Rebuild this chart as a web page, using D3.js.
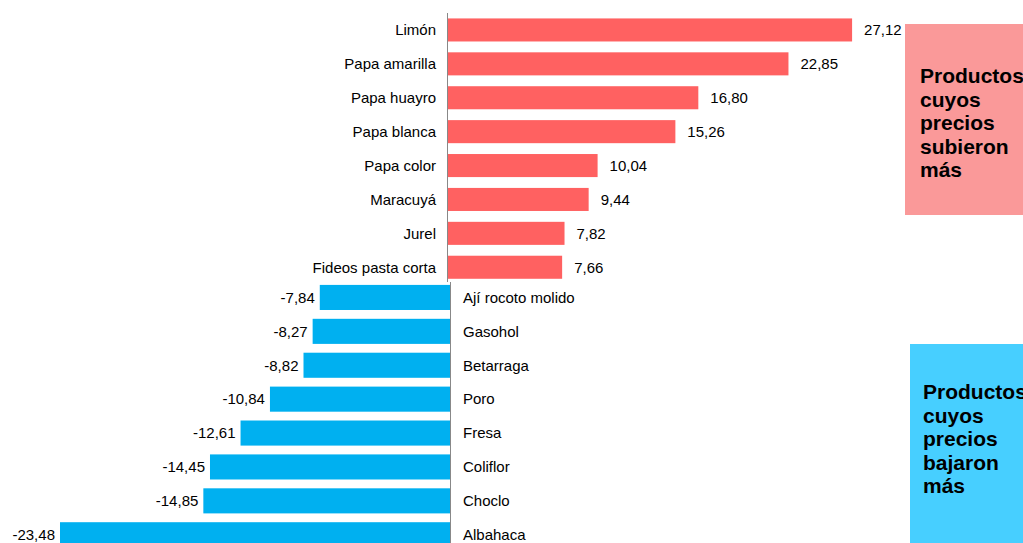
<!DOCTYPE html>
<meta charset='utf-8'>
<style>
body { margin: 0; background: #fff; }
svg { display: block; }
text { font-family: 'Liberation Sans', Arial, sans-serif; font-size: 15px; fill: #000; }
.box-label { font-weight: bold; font-size: 21px; }
</style>
<svg id='chart'></svg>
<script src="https://cdn.jsdelivr.net/npm/d3@7/dist/d3.min.js"></script>
<script>

// products whose prices rose most
const upNames = ['Limón', 'Papa amarilla', 'Papa huayro', 'Papa blanca', 'Papa color',
                 'Maracuyá', 'Jurel', 'Fideos pasta corta'];
const upValues = [27.12, 22.85, 16.80, 15.26, 10.04, 9.44, 7.82, 7.66];

// products whose prices fell most
const downNames = ['Ají rocoto molido', 'Gasohol', 'Betarraga', 'Poro', 'Fresa',
                   'Coliflor', 'Choclo', 'Albahaca'];
const downValues = [-7.84, -8.27, -8.82, -10.84, -12.61, -14.45, -14.85, -23.48];

const upBoxLines = ['Productos', 'cuyos', 'precios', 'subieron', 'más'];
const downBoxLines = ['Productos', 'cuyos', 'precios', 'bajaron', 'más'];

const width = 1023;
const height = 543;
const fmt = v => v.toFixed(2).replace('.', ',');

const svg = d3.select('#chart')
  .attr('width', width)
  .attr('height', height);

// the two halves were drawn at slightly different scales in the original
const xUp = d3.scaleLinear().domain([0, 30]).range([448, 448 + 30 * 14.9]);
const xDown = d3.scaleLinear().domain([-25, 0]).range([450 - 25 * 16.61, 450]);

const yUp = d3.scaleBand().domain(upNames).range([13, 13 + 8 * 33.9]).paddingInner(0.32).paddingOuter(0.16);
const yDown = d3.scaleBand().domain(downNames).range([280.5, 280.5 + 8 * 33.9]).paddingInner(0.26).paddingOuter(0.13);

const up = upNames.map((n, i) => ({ name: n, value: upValues[i] }));
const down = downNames.map((n, i) => ({ name: n, value: downValues[i] }));

// side boxes
const boxes = [
  { x: 905, y: 24, w: 130, h: 191, fill: '#FA9999', lines: upBoxLines, tx: 920, ty: 83 },
  { x: 910, y: 344, w: 130, h: 210, fill: '#47CFFF', lines: downBoxLines, tx: 923, ty: 399 }
];

boxes.forEach(b => {
  svg.append('rect')
    .attr('x', b.x).attr('y', b.y)
    .attr('width', b.w).attr('height', b.h)
    .attr('fill', b.fill);
  svg.append('g').selectAll('text')
    .data(b.lines)
    .join('text')
    .attr('class', 'box-label')
    .attr('x', b.tx)
    .attr('y', (d, i) => b.ty + i * 23.6)
    .text(d => d);
});

// rising bars
const gUp = svg.append('g');
gUp.selectAll('rect')
  .data(up)
  .join('rect')
  .attr('x', xUp(0))
  .attr('y', d => yUp(d.name))
  .attr('width', d => xUp(d.value) - xUp(0))
  .attr('height', yUp.bandwidth())
  .attr('fill', '#FF6161');

gUp.selectAll('text.cat')
  .data(up)
  .join('text')
  .attr('class', 'cat')
  .attr('x', xUp(0) - 12)
  .attr('y', d => yUp(d.name) + yUp.bandwidth() / 2)
  .attr('dy', '0.35em')
  .attr('text-anchor', 'end')
  .text(d => d.name);

gUp.selectAll('text.val')
  .data(up)
  .join('text')
  .attr('class', 'val')
  .attr('x', d => xUp(d.value) + 12)
  .attr('y', d => yUp(d.name) + yUp.bandwidth() / 2)
  .attr('dy', '0.35em')
  .text(d => fmt(d.value));

// falling bars
const gDown = svg.append('g');
gDown.selectAll('rect')
  .data(down)
  .join('rect')
  .attr('x', d => xDown(d.value))
  .attr('y', d => yDown(d.name))
  .attr('width', d => xDown(0) - xDown(d.value))
  .attr('height', yDown.bandwidth())
  .attr('fill', '#00B0F0');

gDown.selectAll('text.cat')
  .data(down)
  .join('text')
  .attr('class', 'cat')
  .attr('x', xDown(0) + 13)
  .attr('y', d => yDown(d.name) + yDown.bandwidth() / 2)
  .attr('dy', '0.35em')
  .text(d => d.name);

gDown.selectAll('text.val')
  .data(down)
  .join('text')
  .attr('class', 'val')
  .attr('x', d => xDown(d.value) - 5)
  .attr('y', d => yDown(d.name) + yDown.bandwidth() / 2)
  .attr('dy', '0.35em')
  .attr('text-anchor', 'end')
  .text(d => fmt(d.value));

// zero lines
svg.append('line')
  .attr('x1', xUp(0) - 0.5).attr('x2', xUp(0) - 0.5)
  .attr('y1', 13).attr('y2', 282)
  .attr('stroke', '#888').attr('stroke-width', 1);
svg.append('line')
  .attr('x1', xDown(0) + 0.5).attr('x2', xDown(0) + 0.5)
  .attr('y1', 282).attr('y2', height)
  .attr('stroke', '#888').attr('stroke-width', 1);

</script>
